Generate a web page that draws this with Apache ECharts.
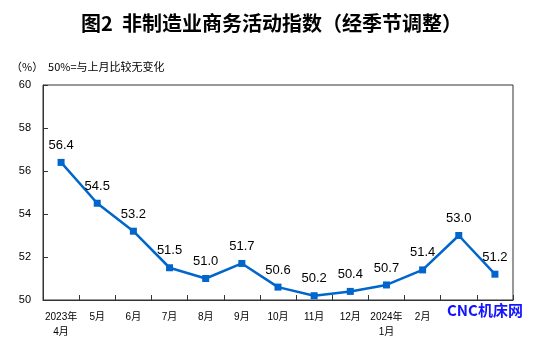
<!DOCTYPE html>
<html>
<head>
<meta charset="utf-8">
<script src="https://cdn.jsdelivr.net/npm/echarts@6/dist/echarts.min.js"></script>
<style>
html,body{margin:0;padding:0;background:#fff;}
#chart{width:553px;height:343px;}
</style>
</head>
<body>
<div id="chart"></div>
<script>
// 非制造业商务活动指数（经季节调整），%
const months = ['2023年\n4月','5月','6月','7月','8月','9月','10月','11月','12月','2024年\n1月','2月','3月','4月'];
const indexValues = [56.4, 54.5, 53.2, 51.5, 51.0, 51.7, 50.6, 50.2, 50.4, 50.7, 51.4, 53.0, 51.2];
const yTicks = [50, 52, 54, 56, 58, 60];

const chart = echarts.init(document.getElementById('chart'));
const cjk = '"Liberation Sans", "Noto Sans CJK SC", sans-serif';

chart.setOption({
  animation: false,
  backgroundColor: '#fff',
  title: {
    text: '图2  非制造业商务活动指数（经季节调整）',
    left: 76,
    top: 8,
    textStyle: { fontFamily: '"Noto Sans CJK SC", sans-serif', fontSize: 20, fontWeight: 'bold', color: '#000' }
  },
  graphic: [
    {
      type: 'text', left: 11, top: 61,
      style: { text: '（%）  50%=与上月比较无变化', font: '11px "Noto Sans CJK SC", sans-serif', fill: '#000' }
    },
    {
      // site stamp over the last axis labels
      type: 'rect', z: 99,
      shape: { x: 444, y: 305, width: 76, height: 34 },
      style: { fill: '#fff' }
    },
    {
      type: 'text', left: 447, top: 303, z: 100,
      style: { text: 'CNC机床网', font: 'bold 15px "Noto Sans CJK SC", sans-serif', fill: '#1414ff' }
    }
  ],
  grid: { left: 43, right: 40, top: 85, bottom: 43, show: true, borderColor: '#333', borderWidth: 1 },
  xAxis: {
    type: 'category',
    data: months,
    boundaryGap: true,
    axisLine: { lineStyle: { color: '#333', width: 1 } },
    axisTick: { show: true, inside: true, length: 5, lineStyle: { color: '#333' } },
    axisLabel: { fontFamily: cjk, fontSize: 10, color: '#000', margin: 10, lineHeight: 15, interval: 0 }
  },
  yAxis: {
    type: 'value',
    min: yTicks[0],
    max: yTicks[yTicks.length - 1],
    interval: 2,
    axisLine: { show: true, lineStyle: { color: '#333', width: 1 } },
    axisTick: { show: true, inside: true, length: 5, lineStyle: { color: '#333' } },
    splitLine: { show: false },
    axisLabel: { fontFamily: cjk, fontSize: 11, color: '#000', margin: 12 }
  },
  series: [{
    type: 'line',
    data: indexValues,
    symbol: 'rect',
    symbolSize: 7,
    lineStyle: { color: '#0066cc', width: 2.5 },
    itemStyle: { color: '#0066cc' },
    label: {
      show: true,
      position: 'top',
      distance: 7,
      fontFamily: '"Liberation Sans", Arial, sans-serif',
      fontSize: 13,
      color: '#000',
      formatter: p => p.value.toFixed(1)
    }
  }]
});
</script>
</body>
</html>
